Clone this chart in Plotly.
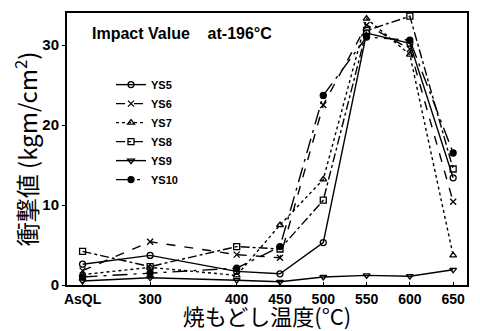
import plotly.graph_objects as go

categories = ["AsQL", "300", "400", "450", "500", "550", "600", "650"]
x_pos = [222, 300, 400, 450, 500, 550, 600, 650]

ys5 = [2.6, 3.7, 1.7, 1.4, 5.3, 31.5, 30.2, 13.4]
ys6 = [1.8, 5.4, 3.8, 3.4, 22.5, 32.5, 29.5, 10.4]
ys7 = [1.3, 2.2, 1.2, 7.5, 13.2, 33.3, 28.8, 3.7]
ys8 = [4.2, 2.3, 4.8, 4.5, 10.6, 31.8, 33.6, 14.5]
ys9 = [0.5, 0.9, 0.6, 0.4, 1.0, 1.2, 1.1, 1.9]
ys10 = [1.0, 1.5, 2.1, 4.8, 23.7, 31.0, 30.6, 16.5]

y_ticks = [0, 10, 20, 30]

series = [
    ("YS5", ys5, "solid", "circle-open"),
    ("YS6", ys6, "dash", "x-thin-open"),
    ("YS7", ys7, "dot", "triangle-up-open"),
    ("YS8", ys8, "dashdot", "square-open"),
    ("YS9", ys9, "solid", "triangle-down-open"),
    ("YS10", ys10, "longdashdot", "circle"),
]

fig = go.Figure()
for name, vals, dash, sym in series:
    fig.add_trace(go.Scatter(
        x=x_pos, y=vals, name=name, mode="lines+markers",
        line=dict(color="black", width=1.4, dash=dash),
        marker=dict(symbol=sym, size=6, color="black",
                    line=dict(color="black", width=1.3)),
    ))

# page body has an 8px margin, so the figure is sized to fit the 480x331 window
fig.update_layout(
    width=472, height=323,
    margin=dict(l=59, r=13, t=3, b=46),
    paper_bgcolor="white", plot_bgcolor="white",
    font=dict(family="Liberation Sans", color="black"),
    showlegend=True,
    legend=dict(x=0.11, y=0.79, xanchor="left", yanchor="top",
                bgcolor="rgba(0,0,0,0)", font=dict(size=11, weight="bold"),
                itemwidth=30, tracegroupgap=0),
    xaxis=dict(range=[204, 666], tickvals=x_pos, ticktext=categories,
               showgrid=False, zeroline=False, showline=True, mirror=True,
               linecolor="black", linewidth=2, ticks="inside", ticklen=3,
               tickcolor="black",
               tickfont=dict(size=14, family="Liberation Sans", weight="bold"),
               title=dict(text="焼もどし温度(°C)", standoff=4,
                          font=dict(size=22, family="Noto Sans CJK JP"))),
    yaxis=dict(range=[0, 34], tickvals=y_ticks,
               showgrid=False, zeroline=False, showline=True, mirror=True,
               linecolor="black", linewidth=2, ticks="outside", ticklen=3,
               tickcolor="black",
               tickfont=dict(size=15, family="Liberation Sans", weight="bold"),
               title=dict(text="衝撃値 (kgm/cm<sup>2</sup>)", standoff=2,
                          font=dict(size=24, family="Noto Sans CJK JP"))),
    annotations=[
        dict(text="<b>Impact Value    at-196°C</b>", xref="paper", yref="paper",
             x=0.0575, y=0.925, xanchor="left", yanchor="middle", showarrow=False,
             font=dict(size=16, family="Liberation Sans")),
    ],
)

fig.write_html("out.html")
